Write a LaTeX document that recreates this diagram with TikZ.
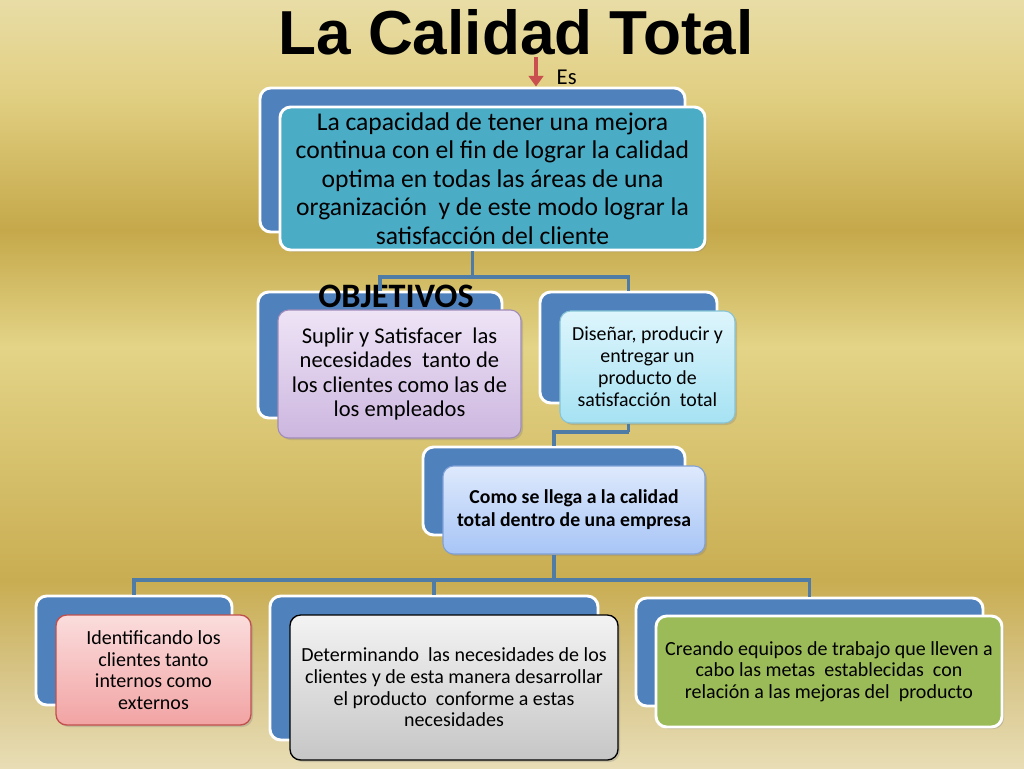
\documentclass[tikz,border=0pt]{standalone}
\usepackage{fontspec}
\setmainfont{Carlito}
\newfontfamily\titlefont{Liberation Sans}
\usetikzlibrary{shadows,arrows.meta}
\definecolor{bga}{HTML}{E9DDA6}
\definecolor{bgb}{HTML}{E0CE80}
\definecolor{bgc}{HTML}{C5A84A}
\definecolor{bgd}{HTML}{E3D487}
\definecolor{bge}{HTML}{C9AD52}
\definecolor{bgf}{HTML}{D8C68A}
\definecolor{bgg}{HTML}{E8DDB5}
\definecolor{boxblue}{HTML}{4F81BD}
\definecolor{linkblue}{HTML}{4F7BA7}
\definecolor{tealbox}{HTML}{4BACC6}
\definecolor{esred}{HTML}{C9504F}
\definecolor{lavtop}{HTML}{EEE4F6}
\definecolor{lavbot}{HTML}{CCB6DF}
\definecolor{lavline}{HTML}{A08CB8}
\definecolor{cyantop}{HTML}{DDF5FC}
\definecolor{cyanbot}{HTML}{A6E2F3}
\definecolor{cyanline}{HTML}{86C4D6}
\definecolor{bluetop}{HTML}{DEE9FC}
\definecolor{bluebot}{HTML}{A7C5F6}
\definecolor{blueline}{HTML}{7FA1D8}
\definecolor{pinktop}{HTML}{FBDDDD}
\definecolor{pinkbot}{HTML}{F2A3A3}
\definecolor{pinkline}{HTML}{C0504D}
\definecolor{greytop}{HTML}{F3F3F3}
\definecolor{greybot}{HTML}{C6C6C6}
\definecolor{greenbox}{HTML}{9BBB59}
\pgfdeclareverticalshading{slidebg}{100bp}{color(0bp)=(bgg); color(25bp)=(bgg); color(30.73bp)=(bgf); color(37.24bp)=(bge); color(52.41bp)=(bgd); color(60.03bp)=(bgc); color(68.49bp)=(bgb); color(75bp)=(bga); color(100bp)=(bga)}
\tikzset{
  backbox/.style={rectangle, rounded corners=8pt, fill=boxblue, draw=white, line width=2.2pt, inner sep=0pt},
  frontbox/.style={rectangle, rounded corners=8pt, inner sep=0pt, align=center, text=black,
    drop shadow={opacity=0.3, shadow xshift=1.5pt, shadow yshift=-1.5pt}},
  link/.style={draw=linkblue, line width=2.3pt},
  bottomtext/.style={font=\fontsize{15}{16.2}\selectfont}
}
\begin{document}
\begin{tikzpicture}[x=0.75pt, y=-0.75pt]
\useasboundingbox (0,0) rectangle (1024,768);
\shade[shading=slidebg] (0,0) rectangle (1024,768);

% title
\node[anchor=base, font=\titlefont\bfseries\fontsize{46.6}{50}\selectfont] (title) at (516,54) {La Calidad Total};

% top
\node[backbox, minimum width=318.75pt, minimum height=108pt] (topback) at (472.5,160) {};
\node[frontbox, fill=tealbox, draw=white, line width=2.2pt, minimum width=318.75pt, minimum height=107.25pt,
  font=\fontsize{19.2}{21.4}\selectfont] (topfront) at (492.5,178.5)
  {La capacidad de tener una mejora\\continua con el fin de lograr la calidad\\optima en todas las áreas de una\\organización~ y de este modo lograr la\\satisfacción del cliente};

\coordinate (esstart) at (536,57);
\draw[esred, line width=3pt, -{Triangle[width=11pt,length=8pt]}] (esstart) -- (esstart |- topback.north);
\node[anchor=base west, font=\fontsize{17}{20}\selectfont] (es) at (552,84) {Es};

% objectives
\node[backbox, minimum width=183pt, minimum height=94.5pt] (lback) at (380,355) {};
\node[backbox, minimum width=132.75pt, minimum height=83.25pt] (rback) at (628.5,347.5) {};
\node[frontbox, top color=lavtop, bottom color=lavbot, draw=lavline, line width=0.8pt,
  minimum width=182.25pt, minimum height=96pt, font=\fontsize{16.9}{18.2}\selectfont] (lfront) at (399.5,374)
  {Suplir y Satisfacer~ las\\necesidades~ tanto de\\los clientes como las de\\los empleados};
\node[frontbox, top color=cyantop, bottom color=cyanbot, draw=cyanline, line width=0.8pt,
  minimum width=131.25pt, minimum height=84pt, font=\fontsize{14.9}{16.5}\selectfont] (rfront) at (647.5,367)
  {Diseñar, producir y\\entregar un\\producto de\\satisfacción~ total};
\node[anchor=base, font=\bfseries\fontsize{25.7}{28}\selectfont] (objetivos) at (396,307) {OBJETIVOS};

\coordinate (j1) at (472.5,277);
\draw[link] (topfront.south -| topback.center) -- (j1);
\draw[link] (j1) -| (lback.north);
\draw[link] (j1) -| (rback.north);

% como
\node[backbox, minimum width=196.5pt, minimum height=66pt] (comoback) at (554,491) {};
\node[frontbox, top color=bluetop, bottom color=bluebot, draw=blueline, line width=0.8pt,
  minimum width=196.5pt, minimum height=66pt, font=\bfseries\fontsize{14.8}{17.25}\selectfont] (comofront) at (574,510)
  {Como se llega a la calidad\\total dentro de una empresa};

\coordinate (j2) at (628.5,432);
\draw[link] (rfront.south -| rback.center) -- (j2);
\draw[link] (j2) -| (comoback.north);

% bottom row
\node[backbox, minimum width=147pt, minimum height=81.75pt] (blback) at (134,650.5) {};
\node[backbox, minimum width=246pt, minimum height=108pt] (bmback) at (434,668) {};
\node[backbox, minimum width=260.25pt, minimum height=81pt] (brback) at (809.5,652) {};

\node[frontbox, top color=pinktop, bottom color=pinkbot, draw=pinkline, line width=1pt,
  minimum width=146.25pt, minimum height=82.5pt, bottomtext] (blfront) at (153.5,670)
  {Identificando los\\clientes tanto\\internos como\\externos};
\node[frontbox, top color=greytop, bottom color=greybot, draw=black, line width=1pt,
  minimum width=246pt, minimum height=108.75pt, bottomtext] (bmfront) at (454,687.5)
  {Determinando~ las necesidades de los\\clientes y de esta manera desarrollar\\el producto~ conforme a estas\\necesidades};
\node[frontbox, fill=greenbox, draw=white, line width=2.2pt,
  minimum width=259.5pt, minimum height=83.25pt, bottomtext] (brfront) at (829,671.5)
  {Creando equipos de trabajo que lleven a\\cabo las metas~ establecidas~ con\\relación a las mejoras del~ producto};

\coordinate (j3) at (554,580);
\draw[link] (comofront.south -| comoback.center) -- (j3);
\draw[link] (j3) -| (blback.north);
\draw[link] (j3) -| (brback.north);
\draw[link] (bmback.north |- j3) -- (bmback.north);
\end{tikzpicture}
\end{document}
